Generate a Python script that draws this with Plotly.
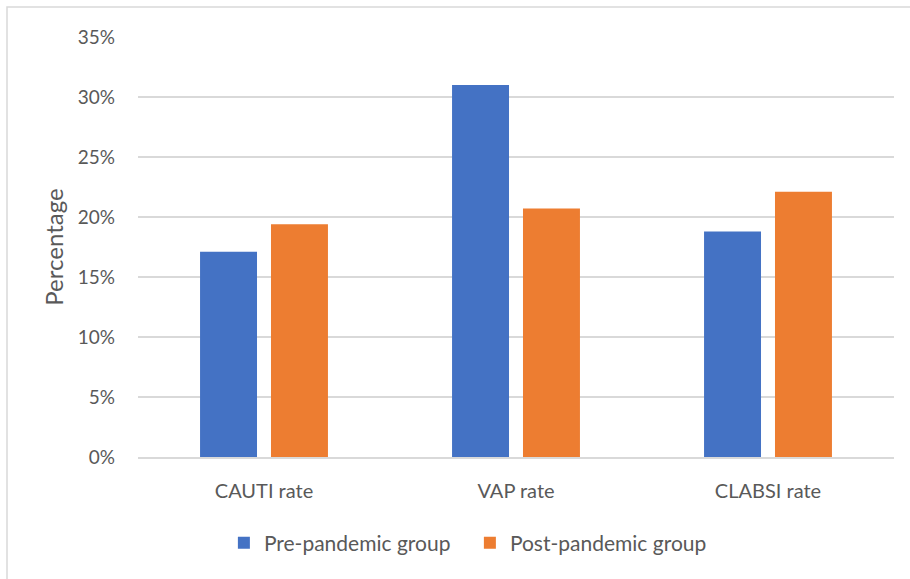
import plotly.graph_objects as go

categories = ["CAUTI rate", "VAP rate", "CLABSI rate"]
pre_pandemic = [17.1, 31.0, 18.8]
post_pandemic = [19.4, 20.7, 22.1]
series_names = ["Pre-pandemic group", "Post-pandemic group"]
y_ticks = [0, 5, 10, 15, 20, 25, 30, 35]
y_tick_labels = [f"{v}%" for v in y_ticks]

FONT = "Lato, 'Open Sans', sans-serif"
GREY = "#595959"

fig = go.Figure()
fig.add_trace(go.Bar(x=categories, y=pre_pandemic, name=series_names[0],
                     marker=dict(color="#4472C4", line=dict(width=0))))
fig.add_trace(go.Bar(x=categories, y=post_pandemic, name=series_names[1],
                     marker=dict(color="#ED7D31", line=dict(width=0))))

W, H = 910, 579
L, R, T, B = 138, 16, 37, 122
pw, ph = W - L - R, H - T - B

fig.update_layout(
    width=W, height=H,
    margin=dict(l=L, r=R, t=T, b=B, pad=0),
    paper_bgcolor="white", plot_bgcolor="white",
    barmode="group", bargap=0.437, bargroupgap=0.197,
    font=dict(family=FONT, color=GREY, size=20),
    showlegend=True,
    legend=dict(orientation="h", x=0.439, xanchor="center", y=-0.205, yanchor="middle",
                font=dict(size=21, color=GREY), itemwidth=30, traceorder="normal",
                entrywidth=201),
    xaxis=dict(showgrid=False, showline=True, linecolor="#D9D9D9", linewidth=1.5,
               ticks="", tickfont=dict(size=20, color=GREY), ticklabelstandoff=15),
    yaxis=dict(range=[0, 35], tickvals=y_ticks, ticktext=y_tick_labels,
               showgrid=True, gridcolor="#D9D9D9", gridwidth=1.5, zeroline=False,
               showline=False, ticks="", tickfont=dict(size=19, color=GREY),
               ticklabelstandoff=22,
               title=dict(text="Percentage", font=dict(size=24, color=GREY), standoff=7)),
    shapes=[dict(type="rect", xref="paper", yref="paper",
                 x0=(7 - L) / pw, x1=(915 - L) / pw,
                 y0=(H - B - 585) / ph, y1=(H - B - 7) / ph,
                 line=dict(color="#D9D9D9", width=1.5), fillcolor="rgba(0,0,0,0)", layer="below")],
)

fig.write_html("out.html", config={"displayModeBar": False},
               post_script="document.body.style.margin='0';document.body.style.overflow='hidden';")
